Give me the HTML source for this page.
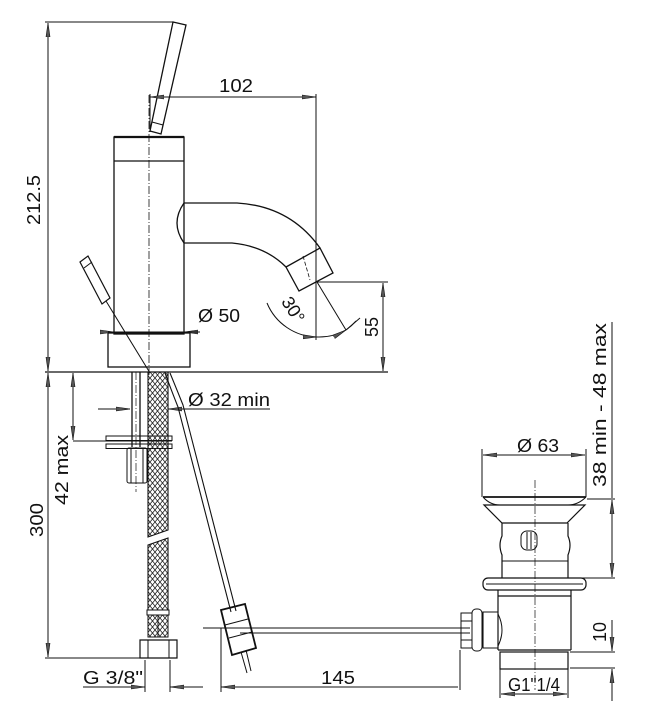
<!DOCTYPE html>
<html><head><meta charset="utf-8"><style>
html,body{margin:0;padding:0;background:#fff}
svg{display:block}
text{font-family:"Liberation Sans",sans-serif;fill:#111}
</style></head><body>
<svg width="661" height="713" viewBox="0 0 661 713" xmlns="http://www.w3.org/2000/svg">
<defs>
<marker id="a" viewBox="0 0 14 5" refX="14" refY="2.5" markerWidth="14" markerHeight="5" markerUnits="userSpaceOnUse" orient="auto-start-reverse">
<path d="M0,0.5 L14,2.5 L0,4.5 Z" fill="#555" stroke="#111" stroke-width="0.6"/></marker>
<pattern id="h" width="5" height="6" patternUnits="userSpaceOnUse">
<path d="M0,0 L5,6 M5,0 L0,6" stroke="#222" stroke-width="0.8"/></pattern>
</defs>
<g stroke="#111" fill="none" stroke-width="1">
<line x1="45" y1="22" x2="174" y2="22"/>
<line x1="48" y1="23" x2="48" y2="371" marker-start="url(#a)" marker-end="url(#a)"/>
<polygon points="173,22 186,25 161,134 150,131" stroke-width="1.3"/>
<line x1="152" y1="122" x2="163" y2="125"/>
<line x1="150" y1="97" x2="316" y2="97" marker-start="url(#a)" marker-end="url(#a)"/>
<line x1="150" y1="94" x2="150" y2="132"/>
<line x1="316" y1="94" x2="316" y2="340"/>
<rect x="114" y="137" width="70" height="197" stroke-width="1.3"/>
<line x1="114" y1="137" x2="184" y2="137" stroke-width="2.2"/>
<line x1="114" y1="161" x2="184" y2="161" stroke-width="1.2"/>
<line x1="149" y1="95" x2="149" y2="375" stroke-dasharray="8,2,1,2" stroke-width="0.8"/>
<path d="M184,203 L237,203 Q290,206 320,248" stroke-width="1.3"/>
<path d="M184,243 L232,243 Q265,246 286,267" stroke-width="1.3"/>
<path d="M184,203 Q170,223 184,243" stroke-width="1.3"/>
<polygon points="286,267 320,248 333,273 299,291" stroke-width="1.3"/>
<line x1="303" y1="256" x2="310" y2="280" stroke-width="0.8" stroke-dasharray="4,2"/>
<line x1="317" y1="282" x2="346" y2="330"/>
<line x1="346" y1="330" x2="360" y2="318"/>
<path d="M267,303 A55,55 0 0 0 317,337" marker-end="url(#a)"/>
<path d="M317,337 A55,55 0 0 0 346,330" marker-end="url(#a)"/>
<path d="M346,330 A55,55 0 0 0 356,321"/>
<line x1="317" y1="282" x2="388" y2="282"/>
<line x1="383" y1="283" x2="383" y2="371" marker-start="url(#a)" marker-end="url(#a)"/>
<rect x="108" y="333" width="82" height="34" stroke-width="1.3"/>
<line x1="100" y1="332" x2="114" y2="332" marker-end="url(#a)"/>
<line x1="200" y1="332" x2="184" y2="332" marker-end="url(#a)"/>
<line x1="108" y1="332" x2="200" y2="332"/>
<line x1="45" y1="372" x2="388" y2="372" stroke-width="1.2"/>
<polygon points="80,262 88,256 110,298 102,304" stroke-width="1.2"/>
<line x1="84" y1="268" x2="92" y2="262"/>
<line x1="106" y1="301" x2="150" y2="373"/>
<line x1="48" y1="373" x2="48" y2="657" marker-start="url(#a)" marker-end="url(#a)"/>
<line x1="45" y1="658" x2="143" y2="658"/>
<line x1="73" y1="373" x2="73" y2="440" marker-start="url(#a)" marker-end="url(#a)"/>
<line x1="73" y1="441" x2="172" y2="441"/>
<line x1="132" y1="372" x2="132" y2="447" stroke-width="1.3"/>
<line x1="140" y1="372" x2="140" y2="447" stroke-width="1.3"/>
<line x1="136" y1="372" x2="136" y2="492" stroke-dasharray="8,2,1,2" stroke-width="0.7"/>
<rect x="106" y="436" width="66" height="4.5"/>
<rect x="106" y="444" width="66" height="4.5"/>
<rect x="127" y="448" width="20" height="35" rx="2"/>
<line x1="131" y1="448" x2="131" y2="483"/><line x1="143" y1="448" x2="143" y2="483"/>
<path d="M148,372 L168,372 L168,530 L148,537 Z" fill="url(#h)" stroke-width="1.1"/>
<path d="M148,545 L168,538 L168,610 L148,610 Z" fill="url(#h)" stroke-width="1.1"/>
<rect x="147" y="610" width="22" height="5"/>
<rect x="148" y="615" width="20" height="22" fill="url(#h)"/>
<line x1="158" y1="615" x2="158" y2="637"/>
<path d="M140,640 L177,640 L177,658 L140,658 Z" stroke-width="1.2"/>
<line x1="148" y1="640" x2="148" y2="658"/><line x1="169" y1="640" x2="169" y2="658"/>
<line x1="98" y1="409" x2="130" y2="409" marker-end="url(#a)"/>
<line x1="270" y1="409" x2="168" y2="409" marker-end="url(#a)"/>
<path d="M165,373 Q172,392 178,407 L231,612" stroke-width="1.1"/>
<path d="M170,373 Q177,390 183,405 L236,611" stroke-width="1.1"/>
<polygon points="221,610 245,604 256,648 232,655" stroke-width="1.8"/>
<line x1="225" y1="625" x2="248" y2="619"/>
<line x1="229" y1="638" x2="252" y2="632"/>
<line x1="241" y1="652" x2="247" y2="673"/><line x1="246" y1="650" x2="251" y2="671"/>
<line x1="203" y1="628" x2="470" y2="628" stroke-width="0.9"/>
<line x1="240" y1="633" x2="470" y2="633" stroke-width="0.9"/>
<line x1="145" y1="660" x2="145" y2="692"/><line x1="170" y1="660" x2="170" y2="692"/>
<line x1="83" y1="687" x2="145" y2="687" marker-end="url(#a)"/>
<line x1="203" y1="687" x2="170" y2="687" marker-end="url(#a)"/>
<line x1="221" y1="628" x2="221" y2="692"/>
<line x1="221" y1="687" x2="458" y2="687" marker-start="url(#a)"/>
<line x1="460" y1="650" x2="460" y2="690"/>
<line x1="535" y1="480" x2="535" y2="690" stroke-dasharray="8,2,1,2" stroke-width="0.7"/>
<line x1="482" y1="449" x2="482" y2="497"/><line x1="586" y1="449" x2="586" y2="497"/>
<line x1="483" y1="455" x2="585" y2="455" marker-start="url(#a)" marker-end="url(#a)"/>
<line x1="483" y1="497" x2="586" y2="497" stroke-width="1.8"/>
<path d="M483,497 Q490,505 500,505 L568,505 Q578,505 586,497" stroke-width="1"/>
<path d="M484,505 L585,505 L567,523 L502,523 Z" stroke-width="1.2"/>
<path d="M502,523 L502,536 Q498,545 502,555 L502,578 M568,523 L568,536 Q572,545 568,555 L568,578" stroke-width="1.2"/>
<rect x="521" y="531" width="16" height="19" rx="6"/>
<line x1="527" y1="532" x2="527" y2="549"/><line x1="531" y1="532" x2="531" y2="549"/>
<line x1="502" y1="561" x2="568" y2="561"/>
<rect x="483" y="578" width="103" height="12" rx="5" stroke-width="1.2"/>
<line x1="486" y1="584" x2="583" y2="584"/>
<path d="M498,590 L498,650 M571,590 L571,650 M498,596 L571,596 M498,650 L571,650" stroke-width="1.2"/>
<path d="M498,612 L483,612 L483,648 L498,648" stroke-width="1.1"/>
<path d="M498,614 Q506,630 498,646"/>
<rect x="472" y="609" width="10" height="42" rx="4"/>
<rect x="461" y="613" width="11" height="35"/>
<line x1="461" y1="621" x2="472" y2="621"/><line x1="461" y1="640" x2="472" y2="640"/>
<rect x="500" y="652" width="68" height="17" stroke-width="1.2"/>
<line x1="500" y1="669" x2="500" y2="698"/><line x1="568" y1="669" x2="568" y2="698"/>
<line x1="501" y1="694" x2="567" y2="694" marker-start="url(#a)" marker-end="url(#a)"/>
<line x1="612" y1="322" x2="612" y2="498"/>
<line x1="587" y1="499" x2="615" y2="499"/>
<line x1="612" y1="500" x2="612" y2="577" marker-start="url(#a)" marker-end="url(#a)"/>
<line x1="567" y1="578" x2="615" y2="578"/>
<line x1="612" y1="620" x2="612" y2="651" marker-end="url(#a)"/>
<line x1="612" y1="701" x2="612" y2="669" marker-end="url(#a)"/>
<line x1="570" y1="652" x2="615" y2="652"/>
<line x1="570" y1="668" x2="615" y2="668"/>
</g>
<g font-size="18" style="font-stretch:condensed">
<text x="40" y="200" transform="rotate(-90 40 200)" text-anchor="middle" textLength="50" lengthAdjust="spacingAndGlyphs">212.5</text>
<text x="236" y="92" text-anchor="middle" textLength="34" lengthAdjust="spacingAndGlyphs">102</text>
<text x="219" y="322" text-anchor="middle" textLength="42" lengthAdjust="spacingAndGlyphs">Ø 50</text>
<text x="288" y="313" transform="rotate(58 288 313)" text-anchor="middle">30°</text>
<text x="378" y="327" transform="rotate(-90 378 327)" text-anchor="middle">55</text>
<text x="229" y="406" text-anchor="middle" textLength="82" lengthAdjust="spacingAndGlyphs">Ø 32  min</text>
<text x="68" y="470" transform="rotate(-90 68 470)" text-anchor="middle" textLength="70" lengthAdjust="spacingAndGlyphs">42  max</text>
<text x="43" y="520" transform="rotate(-90 43 520)" text-anchor="middle" textLength="34" lengthAdjust="spacingAndGlyphs">300</text>
<text x="113" y="684" text-anchor="middle" textLength="60" lengthAdjust="spacingAndGlyphs">G  3/8"</text>
<text x="338" y="684" text-anchor="middle" textLength="34" lengthAdjust="spacingAndGlyphs">145</text>
<text x="538" y="452" text-anchor="middle" textLength="42" lengthAdjust="spacingAndGlyphs">Ø 63</text>
<text x="606" y="405" transform="rotate(-90 606 405)" text-anchor="middle" textLength="164" lengthAdjust="spacingAndGlyphs">38  min  -  48  max</text>
<text x="606" y="632" transform="rotate(-90 606 632)" text-anchor="middle">10</text>
<text x="534" y="691" text-anchor="middle" textLength="52" lengthAdjust="spacingAndGlyphs">G1"1/4</text>
</g>
</svg>
</body></html>
